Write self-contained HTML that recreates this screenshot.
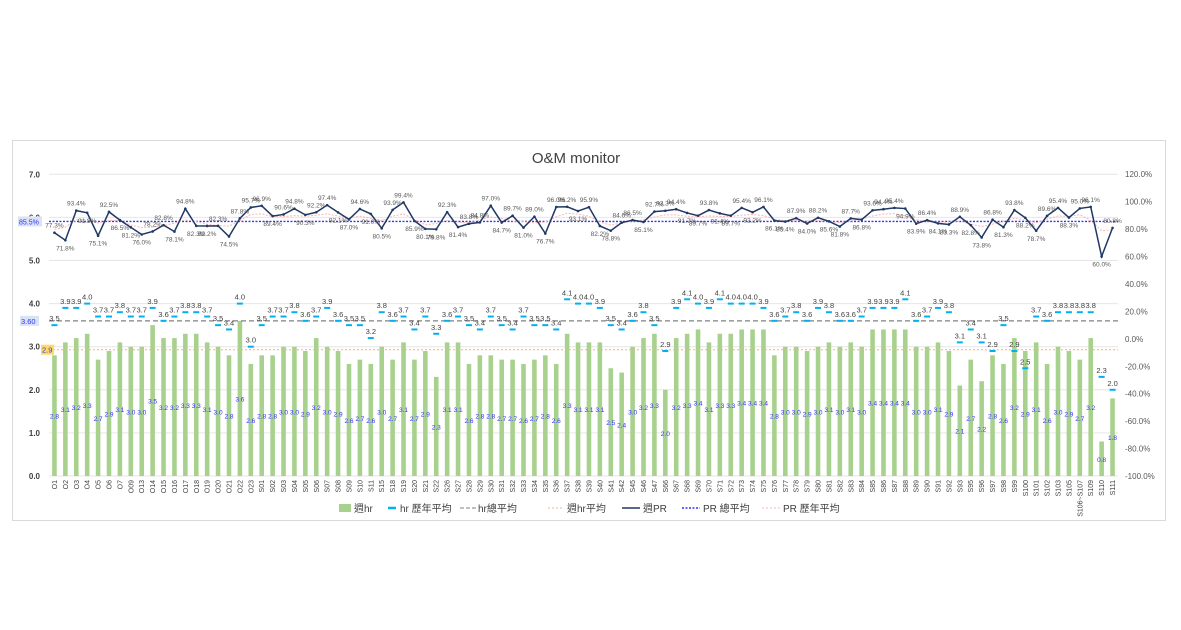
<!DOCTYPE html>
<html><head><meta charset="utf-8">
<style>
html,body{margin:0;padding:0;background:#fff;}
svg{display:block;font-family:"Liberation Sans","Noto Sans CJK TC",sans-serif;}
</style></head>
<body>
<svg id="c" width="1181" height="630" viewBox="0 0 1181 630" xmlns="http://www.w3.org/2000/svg">
<rect x="0" y="0" width="1181" height="630" fill="#fff"/>
<rect x="12.5" y="140.5" width="1153" height="380" fill="#fff" stroke="#d9d9d9"/>
<text x="576" y="163" font-size="15" text-anchor="middle" fill="#404040">O&amp;M monitor</text>
<g id="g"></g>
<g font-size="10" fill="#404040">
<rect x="339" y="504" width="12" height="8" fill="#a9d18e"/><text x="354" y="512">週hr</text>
<line x1="388" y1="508" x2="396" y2="508" stroke="#00b0f0" stroke-width="2.5"/><text x="400" y="512">hr 歷年平均</text>
<line x1="460" y1="508" x2="476" y2="508" stroke="#808080" stroke-dasharray="4,2"/><text x="478" y="512">hr總平均</text>
<line x1="548" y1="508" x2="564" y2="508" stroke="#f4b183" stroke-dasharray="2,2"/><text x="567" y="512">週hr平均</text>
<line x1="622" y1="508" x2="640" y2="508" stroke="#203864" stroke-width="1.5"/><text x="643" y="512">週PR</text>
<line x1="682" y1="508" x2="700" y2="508" stroke="#3333ff" stroke-dasharray="2,1.5" stroke-width="1.5"/><text x="703" y="512">PR 總平均</text>
<line x1="762" y1="508" x2="780" y2="508" stroke="#ffb3b3" stroke-dasharray="2,2"/><text x="783" y="512">PR 歷年平均</text>
</g>
</svg>
<script>
var cats="O1 O2 O3 O4 O5 O6 O7 O09 O13 O14 O15 O16 O17 O18 O19 O20 O21 O22 O23 S01 S02 S03 S04 S05 S06 S07 S08 S09 S10 S11 S15 S18 S19 S20 S21 S22 S26 S27 S28 S29 S30 S31 S32 S33 S34 S35 S36 S37 S38 S39 S40 S41 S42 S45 S46 S47 S66 S67 S68 S69 S70 S71 S72 S73 S74 S75 S76 S77 S78 S79 S80 S81 S82 S83 S84 S85 S86 S87 S88 S89 S90 S91 S92 S93 S95 S96 S97 S98 S99 S100 S101 S102 S103 S105 S106~S107 S109 S110 S111".split(" ");
var bar=[2.8,3.1,3.2,3.3,2.7,2.9,3.1,3.0,3.0,3.5,3.2,3.2,3.3,3.3,3.1,3.0,2.8,3.6,2.6,2.8,2.8,3.0,3.0,2.9,3.2,3.0,2.9,2.6,2.7,2.6,3.0,2.7,3.1,2.7,2.9,2.3,3.1,3.1,2.6,2.8,2.8,2.7,2.7,2.6,2.7,2.8,2.6,3.3,3.1,3.1,3.1,2.5,2.4,3.0,3.2,3.3,2.0,3.2,3.3,3.4,3.1,3.3,3.3,3.4,3.4,3.4,2.8,3.0,3.0,2.9,3.0,3.1,3.0,3.1,3.0,3.4,3.4,3.4,3.4,3.0,3.0,3.1,2.9,2.1,2.7,2.2,2.8,2.6,3.2,2.9,3.1,2.6,3.0,2.9,2.7,3.2,0.8,1.8];
var hav=[3.5,3.9,3.9,4.0,3.7,3.7,3.8,3.7,3.7,3.9,3.6,3.7,3.8,3.8,3.7,3.5,3.4,4.0,3.0,3.5,3.7,3.7,3.8,3.6,3.7,3.9,3.6,3.5,3.5,3.2,3.8,3.6,3.7,3.4,3.7,3.3,3.6,3.7,3.5,3.4,3.7,3.5,3.4,3.7,3.5,3.5,3.4,4.1,4.0,4.0,3.9,3.5,3.4,3.6,3.8,3.5,2.9,3.9,4.1,4.0,3.9,4.1,4.0,4.0,4.0,3.9,3.6,3.7,3.8,3.6,3.9,3.8,3.6,3.6,3.7,3.9,3.9,3.9,4.1,3.6,3.7,3.9,3.8,3.1,3.4,3.1,2.9,3.5,2.9,2.5,3.7,3.6,3.8,3.8,3.8,3.8,2.3,2.0];
var pr=[77.3,71.8,93.4,91.8,75.1,92.5,86.5,81.2,76.0,78.2,82.8,78.1,94.8,82.3,82.2,82.3,74.5,87.8,95.7,96.9,89.4,90.6,94.8,90.3,92.2,97.4,92.1,87.0,94.6,91.0,80.5,93.9,99.4,85.9,80.1,79.8,92.3,81.4,83.8,84.8,97.0,84.7,89.7,81.0,89.0,76.7,96.0,96.2,93.1,95.9,82.2,78.8,84.6,86.5,85.1,92.7,93.3,94.4,91.7,89.7,93.8,91.4,89.7,95.4,92.2,96.1,86.1,85.4,87.9,84.0,88.2,85.6,81.8,87.7,86.8,93.6,94.4,95.4,94.9,83.9,86.4,84.1,83.3,88.9,82.8,73.8,86.8,81.3,93.8,88.2,78.7,89.6,95.4,88.3,95.0,96.1,60.0,80.8];
var N=cats.length,X0=49,X1=1118,W=(X1-X0)/N;
function yl(v){return 476-v*43.1;}
function yr(p){return 229-(p-80)*1.3725;}
function cx(i){return X0+W*(i+0.5);}
var s="";
// grid
[7,6,5,4,3,2,1,0].forEach(function(v){var y=yl(v);s+='<line x1="'+X0+'" x2="'+X1+'" y1="'+y+'" y2="'+y+'" stroke="#e6e6e6"/>';
s+='<text x="40" y="'+(y+3)+'" font-size="8" font-weight="bold" text-anchor="end" fill="#404040">'+v.toFixed(1)+'</text>';});
for(var p=120;p>=-100;p-=20){var y=yr(p);s+='<text x="1125" y="'+(y+3)+'" font-size="8" fill="#595959">'+p.toFixed(1)+'%</text>';}
// bars
for(var i=0;i<N;i++){var y=yl(bar[i]);s+='<rect x="'+(cx(i)-2.3)+'" y="'+y+'" width="4.6" height="'+(476-y)+'" fill="#a9d18e"/>';}
// avg lines
s+='<line x1="'+X0+'" x2="'+X1+'" y1="'+yl(3.6)+'" y2="'+yl(3.6)+'" stroke="#808080" stroke-width="1.3" stroke-dasharray="5,3"/>';
s+='<line x1="'+X0+'" x2="'+X1+'" y1="'+yl(2.93)+'" y2="'+yl(2.93)+'" stroke="#f4b183" stroke-width="1" stroke-dasharray="2,2"/>';
s+='<rect x="20" y="'+(yl(3.6)-5)+'" width="19" height="10" fill="#dae3f3"/><text x="21" y="'+(yl(3.6)+3)+'" font-size="7.5" fill="#3333ff">3.60</text>';
s+='<rect x="41" y="'+(yl(2.93)-5)+'" width="13" height="10" fill="#ffd966"/><text x="42" y="'+(yl(2.93)+3)+'" font-size="7.5" fill="#3333ff">2.9</text>';
// hr avg dashes
for(var i=0;i<N;i++){var y=yl(hav[i]);s+='<line x1="'+(cx(i)-3)+'" x2="'+(cx(i)+3)+'" y1="'+y+'" y2="'+y+'" stroke="#00b0f0" stroke-width="2"/>';
s+='<text x="'+cx(i)+'" y="'+(y-4)+'" font-size="7.5" text-anchor="middle" fill="#404040">'+hav[i].toFixed(1)+'</text>';
s+='<text x="'+cx(i)+'" y="'+(yl(bar[i]/2)+3)+'" font-size="6.5" text-anchor="middle" fill="#3333ff">'+bar[i].toFixed(1)+'</text>';}
// PR
var ya=yr(85.5);
s+='<line x1="'+X0+'" x2="'+X1+'" y1="'+ya+'" y2="'+ya+'" stroke="#3333ff" stroke-width="1.3" stroke-dasharray="2,1.5"/>';
s+='<rect x="18" y="'+(ya-5)+'" width="24" height="10" fill="#dae3f3"/><text x="19" y="'+(ya+3)+'" font-size="7" fill="#3333ff">85.5%</text>';
var pp="",pk="";
for(var i=0;i<N;i++){pp+=cx(i)+','+yr(pr[i])+' ';var sm=(pr[Math.max(0,i-1)]+pr[i]*2+pr[Math.min(N-1,i+1)])/4;sm=85.5+(sm-85.5)*0.6;pk+=cx(i)+','+yr(sm)+' ';}
s+='<polyline points="'+pk+'" fill="none" stroke="#ffb3b3" stroke-width="1" stroke-dasharray="2,1.5"/>';
s+='<polyline points="'+pp+'" fill="none" stroke="#203864" stroke-width="1.5"/>';
for(var i=0;i<N;i++){var y=yr(pr[i]);s+='<circle cx="'+cx(i)+'" cy="'+y+'" r="1.3" fill="#203864"/>';
var up=(i==0||pr[i]>=pr[i-1]);var ty=up?y-5:y+10;
s+='<text x="'+cx(i)+'" y="'+ty+'" font-size="6.5" text-anchor="middle" fill="#595959">'+pr[i].toFixed(1)+'%</text>';}
// x labels
for(var i=0;i<N;i++){s+='<text transform="translate('+(cx(i)+2.5)+',480) rotate(-90)" font-size="7" text-anchor="end" fill="#404040">'+cats[i]+'</text>';}
document.getElementById('g').innerHTML=s;
</script>
</body></html>
